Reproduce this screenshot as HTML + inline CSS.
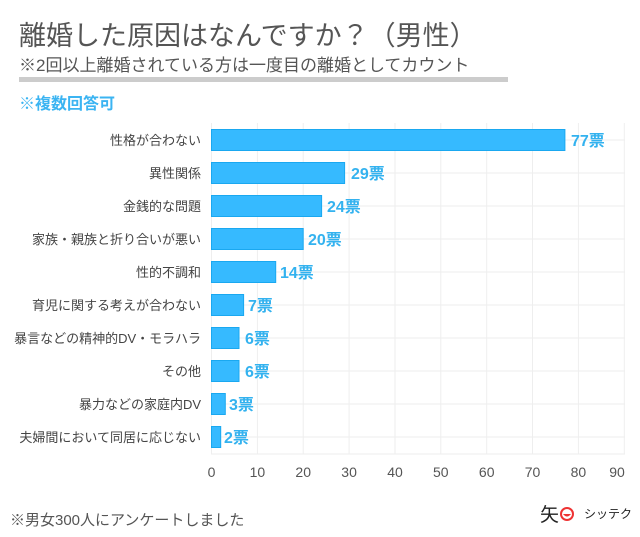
<!DOCTYPE html>
<html><head><meta charset="utf-8"><style>
body{margin:0;background:#fff;font-family:"Liberation Sans","Noto Sans CJK JP",sans-serif;}
.w{position:relative;width:640px;height:537px;overflow:hidden;}
.t{position:absolute;white-space:nowrap;}
</style></head><body><div class="w">
<div class="t" style="left:19px;top:14px;font-size:27px;color:#555;">離婚した原因はなんですか？（男性）</div>
<div class="t" style="left:19px;top:51px;font-size:17px;color:#555;">※2回以上離婚されている方は一度目の離婚としてカウント</div>
<div style="position:absolute;left:19px;top:77px;width:489px;height:5px;background:#ccc;"></div>
<div class="t" style="left:19px;top:90px;font-size:16px;font-weight:bold;color:#3bb4f2;">※複数回答可</div>
<svg width="640" height="537" style="position:absolute;left:0;top:0" font-family="Liberation Sans,Noto Sans CJK JP,sans-serif">
<g stroke="#eee" stroke-width="1">
<line x1="211.5" y1="123" x2="211.5" y2="454"/><line x1="257.4" y1="123" x2="257.4" y2="454"/><line x1="303.2" y1="123" x2="303.2" y2="454"/><line x1="349.1" y1="123" x2="349.1" y2="454"/><line x1="395" y1="123" x2="395" y2="454"/><line x1="440.8" y1="123" x2="440.8" y2="454"/><line x1="486.7" y1="123" x2="486.7" y2="454"/><line x1="532.5" y1="123" x2="532.5" y2="454"/><line x1="578.4" y1="123" x2="578.4" y2="454"/><line x1="624.3" y1="123" x2="624.3" y2="454"/>
<line x1="211" y1="140" x2="625" y2="140"/><line x1="211" y1="173" x2="625" y2="173"/><line x1="211" y1="206" x2="625" y2="206"/><line x1="211" y1="239" x2="625" y2="239"/><line x1="211" y1="272" x2="625" y2="272"/><line x1="211" y1="305" x2="625" y2="305"/><line x1="211" y1="338" x2="625" y2="338"/><line x1="211" y1="371" x2="625" y2="371"/><line x1="211" y1="404" x2="625" y2="404"/><line x1="211" y1="437" x2="625" y2="437"/><line x1="211" y1="454" x2="625" y2="454"/>
</g>
<g fill="#36baff" stroke="#1aa8f0" stroke-width="1">
<rect x="211.5" y="129.5" width="353.4" height="21"/>
<rect x="211.5" y="162.5" width="133.1" height="21"/>
<rect x="211.5" y="195.5" width="110.1" height="21"/>
<rect x="211.5" y="228.5" width="91.7" height="21"/>
<rect x="211.5" y="261.5" width="64.2" height="21"/>
<rect x="211.5" y="294.5" width="32.1" height="21"/>
<rect x="211.5" y="327.5" width="27.5" height="21"/>
<rect x="211.5" y="360.5" width="27.5" height="21"/>
<rect x="211.5" y="393.5" width="13.8" height="21"/>
<rect x="211.5" y="426.5" width="9.2" height="21"/>
</g>
<g fill="#33b2ef" font-size="16" font-weight="bold">
<text x="571" y="146">77票</text><text x="351" y="179">29票</text><text x="327" y="212">24票</text><text x="308" y="245">20票</text><text x="280" y="278">14票</text><text x="248" y="311">7票</text><text x="245" y="344">6票</text><text x="245" y="377">6票</text><text x="229" y="410">3票</text><text x="224" y="443">2票</text>
</g>
<g fill="#444" font-size="13" text-anchor="end">
<text x="201" y="145">性格が合わない</text><text x="201" y="178">異性関係</text><text x="201" y="211">金銭的な問題</text><text x="201" y="244">家族・親族と折り合いが悪い</text><text x="201" y="277">性的不調和</text><text x="201" y="310">育児に関する考えが合わない</text><text x="201" y="343">暴言などの精神的DV・モラハラ</text><text x="201" y="376">その他</text><text x="201" y="409">暴力などの家庭内DV</text><text x="201" y="442">夫婦間において同居に応じない</text>
</g>
<g fill="#555" font-size="14" text-anchor="middle">
<text x="211.5" y="477">0</text><text x="257.4" y="477">10</text><text x="303.2" y="477">20</text><text x="349.1" y="477">30</text><text x="395" y="477">40</text><text x="440.8" y="477">50</text><text x="486.7" y="477">60</text><text x="532.5" y="477">70</text><text x="578.4" y="477">80</text><text x="617" y="477">90</text>
</g>
<text x="10" y="525" font-size="15" fill="#555">※男女300人にアンケートしました</text>
<text x="540" y="521" font-size="19" fill="#222">矢</text>
<circle cx="567" cy="514" r="6" fill="none" stroke="#e33" stroke-width="2"/>
<path d="M563 514 Q567 519 571 514" fill="#e33"/>
<text x="584" y="518" font-size="12" fill="#222">シッテク</text>
</svg>
</div></body></html>
